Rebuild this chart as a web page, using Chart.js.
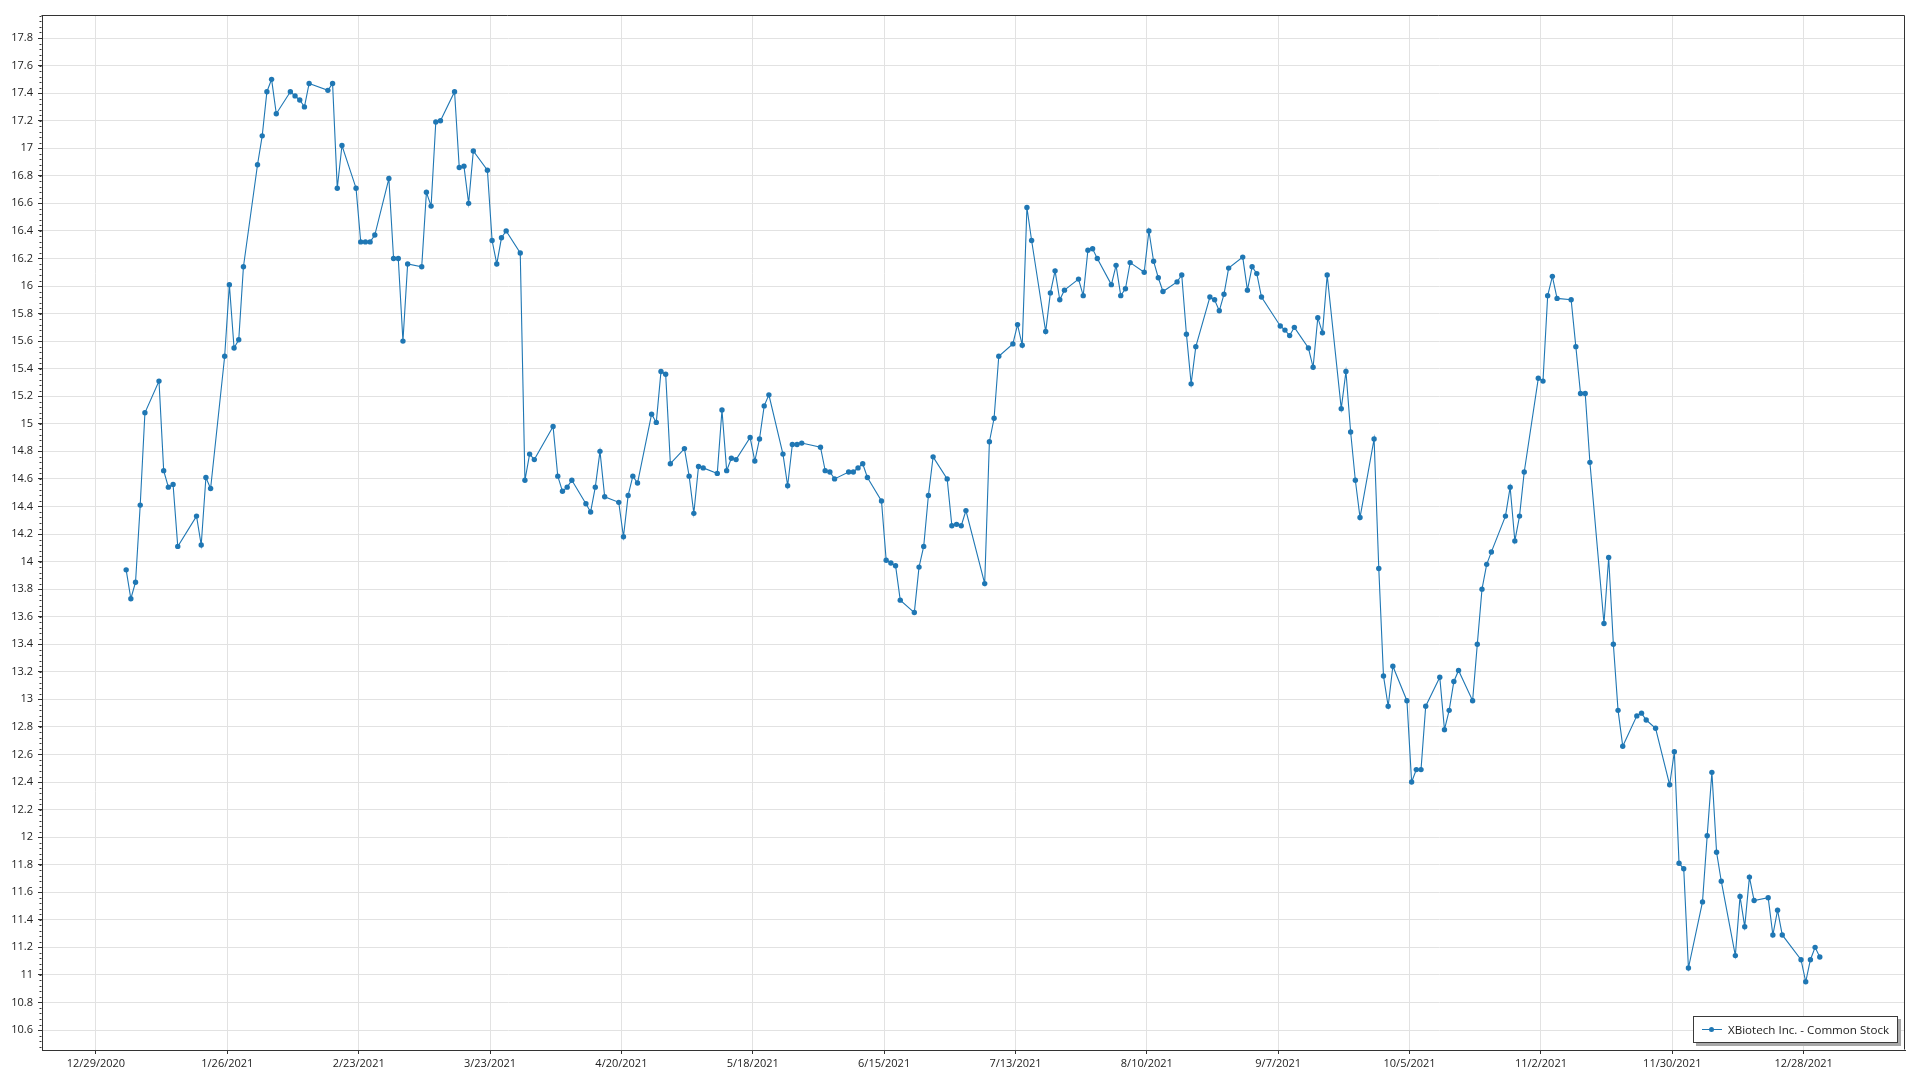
<!DOCTYPE html>
<html>
<head>
<meta charset="utf-8">
<title>XBiotech Inc. - Common Stock</title>
<script src="https://cdn.jsdelivr.net/npm/chart.js@4.4.0/dist/chart.umd.min.js"></script>
<style>
  html, body { margin: 0; padding: 0; background: #fff; }
  #wrap { position: relative; width: 1920px; height: 1080px; }
  #legend {
    position: absolute;
    box-sizing: border-box;
    height: 27px;
    padding: 0 8px 0 8px;
    border: 1px solid #3a3a3a;
    background: #fff;
    box-shadow: 3px 3px 0 #a8a8a8;
    font: 11.6px 'Segoe UI', 'Open Sans', sans-serif;
    color: #222;
    display: flex;
    align-items: center;
    white-space: nowrap;
  }
  #legend .swatch { position: relative; width: 20px; height: 1px; margin-right: 6px; }
  #legend .dot { position: absolute; left: 7px; top: -2px; width: 5px; height: 5px; border-radius: 50%; }
</style>
</head>
<body>
<div id="wrap">
  <canvas id="stock-chart" width="1920" height="1080"></canvas>
  <div id="legend"><span class="swatch"><span class="dot"></span></span><span id="legend-text"></span></div>
</div>
<script>
var seriesLabel = 'XBiotech Inc. - Common Stock';
var seriesColor = '#1f77b4';

// trading days of 2021, one line per month
var tradeDates = [
  '2021-01-04','2021-01-05','2021-01-06','2021-01-07','2021-01-08','2021-01-11','2021-01-12','2021-01-13','2021-01-14','2021-01-15','2021-01-19','2021-01-20','2021-01-21','2021-01-22','2021-01-25','2021-01-26','2021-01-27','2021-01-28','2021-01-29',
  '2021-02-01','2021-02-02','2021-02-03','2021-02-04','2021-02-05','2021-02-08','2021-02-09','2021-02-10','2021-02-11','2021-02-12','2021-02-16','2021-02-17','2021-02-18','2021-02-19','2021-02-22','2021-02-23','2021-02-24','2021-02-25','2021-02-26',
  '2021-03-01','2021-03-02','2021-03-03','2021-03-04','2021-03-05','2021-03-08','2021-03-09','2021-03-10','2021-03-11','2021-03-12','2021-03-15','2021-03-16','2021-03-17','2021-03-18','2021-03-19','2021-03-22','2021-03-23','2021-03-24','2021-03-25','2021-03-26','2021-03-29','2021-03-30','2021-03-31',
  '2021-04-01','2021-04-05','2021-04-06','2021-04-07','2021-04-08','2021-04-09','2021-04-12','2021-04-13','2021-04-14','2021-04-15','2021-04-16','2021-04-19','2021-04-20','2021-04-21','2021-04-22','2021-04-23','2021-04-26','2021-04-27','2021-04-28','2021-04-29','2021-04-30',
  '2021-05-03','2021-05-04','2021-05-05','2021-05-06','2021-05-07','2021-05-10','2021-05-11','2021-05-12','2021-05-13','2021-05-14','2021-05-17','2021-05-18','2021-05-19','2021-05-20','2021-05-21','2021-05-24','2021-05-25','2021-05-26','2021-05-27','2021-05-28',
  '2021-06-01','2021-06-02','2021-06-03','2021-06-04','2021-06-07','2021-06-08','2021-06-09','2021-06-10','2021-06-11','2021-06-14','2021-06-15','2021-06-16','2021-06-17','2021-06-18','2021-06-21','2021-06-22','2021-06-23','2021-06-24','2021-06-25','2021-06-28','2021-06-29','2021-06-30',
  '2021-07-01','2021-07-02','2021-07-06','2021-07-07','2021-07-08','2021-07-09','2021-07-12','2021-07-13','2021-07-14','2021-07-15','2021-07-16','2021-07-19','2021-07-20','2021-07-21','2021-07-22','2021-07-23','2021-07-26','2021-07-27','2021-07-28','2021-07-29','2021-07-30',
  '2021-08-02','2021-08-03','2021-08-04','2021-08-05','2021-08-06','2021-08-09','2021-08-10','2021-08-11','2021-08-12','2021-08-13','2021-08-16','2021-08-17','2021-08-18','2021-08-19','2021-08-20','2021-08-23','2021-08-24','2021-08-25','2021-08-26','2021-08-27','2021-08-30','2021-08-31',
  '2021-09-01','2021-09-02','2021-09-03','2021-09-07','2021-09-08','2021-09-09','2021-09-10','2021-09-13','2021-09-14','2021-09-15','2021-09-16','2021-09-17','2021-09-20','2021-09-21','2021-09-22','2021-09-23','2021-09-24','2021-09-27','2021-09-28','2021-09-29','2021-09-30',
  '2021-10-01','2021-10-04','2021-10-05','2021-10-06','2021-10-07','2021-10-08','2021-10-11','2021-10-12','2021-10-13','2021-10-14','2021-10-15','2021-10-18','2021-10-19','2021-10-20','2021-10-21','2021-10-22','2021-10-25','2021-10-26','2021-10-27','2021-10-28','2021-10-29',
  '2021-11-01','2021-11-02','2021-11-03','2021-11-04','2021-11-05','2021-11-08','2021-11-09','2021-11-10','2021-11-11','2021-11-12','2021-11-15','2021-11-16','2021-11-17','2021-11-18','2021-11-19','2021-11-22','2021-11-23','2021-11-24','2021-11-26','2021-11-29','2021-11-30',
  '2021-12-01','2021-12-02','2021-12-03','2021-12-06','2021-12-07','2021-12-08','2021-12-09','2021-12-10','2021-12-13','2021-12-14','2021-12-15','2021-12-16','2021-12-17','2021-12-20','2021-12-21','2021-12-22','2021-12-23','2021-12-27','2021-12-28','2021-12-29','2021-12-30','2021-12-31'
];

var closePrices = [
  13.94,13.73,13.85,14.41,15.08,15.31,14.66,14.54,14.56,14.11,14.33,14.12,14.61,14.53,15.49,16.01,15.55,15.61,16.14,
  16.88,17.09,17.41,17.50,17.25,17.41,17.38,17.35,17.30,17.47,17.42,17.47,16.71,17.02,16.71,16.32,16.32,16.32,16.37,
  16.78,16.20,16.20,15.60,16.16,16.14,16.68,16.58,17.19,17.20,17.41,16.86,16.87,16.60,16.98,16.84,16.33,16.16,16.35,16.40,16.24,14.59,14.78,
  14.74,14.98,14.62,14.51,14.54,14.59,14.42,14.36,14.54,14.80,14.47,14.43,14.18,14.48,14.62,14.57,15.07,15.01,15.38,15.36,14.71,
  14.82,14.62,14.35,14.69,14.68,14.64,15.10,14.66,14.75,14.74,14.90,14.73,14.89,15.13,15.21,14.78,14.55,14.85,14.85,14.86,
  14.83,14.66,14.65,14.60,14.65,14.65,14.68,14.71,14.61,14.44,14.01,13.99,13.97,13.72,13.63,13.96,14.11,14.48,14.76,14.60,14.26,14.27,
  14.26,14.37,13.84,14.87,15.04,15.49,15.58,15.72,15.57,16.57,16.33,15.67,15.95,16.11,15.90,15.97,16.05,15.93,16.26,16.27,16.20,
  16.01,16.15,15.93,15.98,16.17,16.10,16.40,16.18,16.06,15.96,16.03,16.08,15.65,15.29,15.56,15.92,15.90,15.82,15.94,16.13,16.21,15.97,
  16.14,16.09,15.92,15.71,15.68,15.64,15.70,15.55,15.41,15.77,15.66,16.08,15.11,15.38,14.94,14.59,14.32,14.89,13.95,13.17,12.95,
  13.24,12.99,12.40,12.49,12.49,12.95,13.16,12.78,12.92,13.13,13.21,12.99,13.40,13.80,13.98,14.07,14.33,14.54,14.15,14.33,14.65,
  15.33,15.31,15.93,16.07,15.91,15.90,15.56,15.22,15.22,14.72,13.55,14.03,13.40,12.92,12.66,12.88,12.90,12.85,12.79,12.38,12.62,
  11.81,11.77,11.05,11.53,12.01,12.47,11.89,11.68,11.14,11.57,11.35,11.71,11.54,11.56,11.29,11.47,11.29,11.11,10.95,11.11,11.20,11.13
];

// x axis: one label every 28 days. The labels sit a few hours before
// midnight of the data dates (time zone shift in the original chart).
var xTickStart = '2020-12-28T13:30:00Z';
var xTickStepDays = 28;
var xTickLabels = ['12/29/2020','1/26/2021','2/23/2021','3/23/2021','4/20/2021','5/18/2021','6/15/2021',
  '7/13/2021','8/10/2021','9/7/2021','10/5/2021','11/2/2021','11/30/2021','12/28/2021'];
var xRange = [-11.5, 385.6];   // days before/after the first label shown in the plot

var yRange = [10.455, 17.967];
var yTickStep = 0.2;
var yMinorStep = 0.04;

function dayOffset(dateStr) {
  return (Date.parse(dateStr) - Date.parse(xTickStart)) / 86400000;
}

var points = tradeDates.map(function (d, i) {
  return { x: dayOffset(d), y: closePrices[i] };
});

// top/right frame and the small ticks on the value axis
var frameAndMinorTicks = {
  id: 'frameAndMinorTicks',
  afterDraw: function (chart) {
    var ctx = chart.ctx;
    var area = chart.chartArea;
    var yScale = chart.scales.y;
    var left = Math.round(area.left) - 0.5;
    var right = Math.round(area.right) - 0.5;
    var top = Math.round(area.top) + 0.5;
    var bottom = Math.round(area.bottom) - 0.5;
    ctx.save();
    ctx.strokeStyle = '#333';
    ctx.lineWidth = 1;
    ctx.beginPath();
    ctx.moveTo(left, top);
    ctx.lineTo(right, top);
    ctx.lineTo(right, bottom);
    ctx.stroke();

    ctx.beginPath();
    var k0 = Math.ceil(yScale.min / yMinorStep);
    var k1 = Math.floor(yScale.max / yMinorStep);
    for (var k = k0; k <= k1; k++) {
      var py = Math.round(yScale.getPixelForValue(k * yMinorStep)) + 0.5;
      ctx.moveTo(left - 2, py);
      ctx.lineTo(left, py);
    }
    ctx.stroke();
    ctx.restore();
  }
};

// legend box sits inside the plot, bottom right
var placeLegend = {
  id: 'placeLegend',
  afterRender: function (chart) {
    var area = chart.chartArea;
    var box = document.getElementById('legend');
    document.getElementById('legend-text').textContent = chart.data.datasets[0].label;
    box.querySelector('.swatch').style.background = chart.data.datasets[0].borderColor;
    box.querySelector('.dot').style.background = chart.data.datasets[0].pointBackgroundColor;
    box.style.left = (area.right - 7 - box.offsetWidth) + 'px';
    box.style.top = (area.bottom - 7 - box.offsetHeight) + 'px';
  }
};

Chart.defaults.font.family = "'Segoe UI', 'Open Sans', sans-serif";
Chart.defaults.font.size = 11;
Chart.defaults.color = '#222';

var ctx = document.getElementById('stock-chart').getContext('2d');
var chart = new Chart(ctx, {
  type: 'line',
  data: {
    datasets: [
      {
        label: seriesLabel,
        data: points,
        borderColor: seriesColor,
        borderWidth: 1.1,
        pointRadius: 2.7,
        pointBorderWidth: 0,
        pointBackgroundColor: seriesColor,
        fill: false,
        tension: 0
      }
    ]
  },
  options: {
    responsive: false,
    animation: false,
    layout: { padding: { top: 15, right: 15, left: 0, bottom: 0 } },
    plugins: {
      legend: { display: false },
      tooltip: { enabled: false }
    },
    scales: {
      x: {
        type: 'linear',
        min: xRange[0],
        max: xRange[1],
        afterFit: function (scale) { scale.height = 30; },
        grid: { color: '#e2e2e2', tickColor: '#333', tickLength: 4 },
        border: { color: '#333', width: 1 },
        ticks: {
          stepSize: xTickStepDays,
          includeBounds: false,
          autoSkip: false,
          maxRotation: 0,
          padding: 3,
          callback: function (value) {
            var i = Math.round(value / xTickStepDays);
            return xTickLabels[i] || '';
          }
        }
      },
      y: {
        min: yRange[0],
        max: yRange[1],
        afterFit: function (scale) { scale.width = 42; },
        grid: { color: '#e2e2e2', tickColor: '#333', tickLength: 4 },
        border: { color: '#333', width: 1 },
        ticks: {
          stepSize: yTickStep,
          includeBounds: false,
          padding: 5,
          callback: function (value) {
            return String(Number(value.toFixed(1)));
          }
        }
      }
    }
  },
  plugins: [frameAndMinorTicks, placeLegend]
});
</script>
</body>
</html>
